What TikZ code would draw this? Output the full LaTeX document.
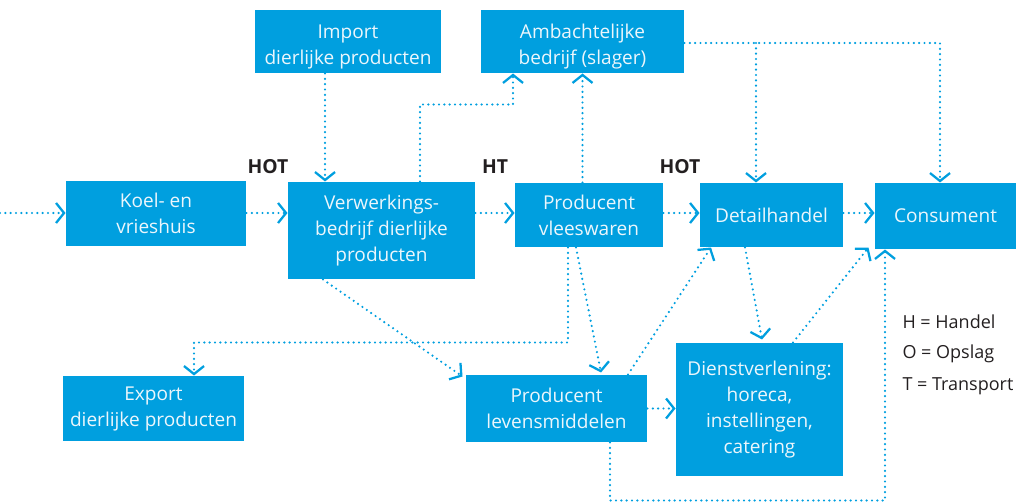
\documentclass[tikz,border=0pt]{standalone}
\usepackage{fontspec}
\setmainfont{Open Sans}
\usetikzlibrary{arrows.meta,calc}

\definecolor{ketenblauw}{RGB}{0,159,223}
\definecolor{ketentekst}{RGB}{236,246,252}
\definecolor{labelgrijs}{RGB}{35,31,32}

\tikzset{every picture/.style={line width=0.75pt}}
\tikzset{
  schakel/.style={fill=ketenblauw, draw=none, text=ketentekst, align=center, inner sep=2pt,
    font=\fontsize{14.3}{19.5}\selectfont},
  stroom/.style={draw=ketenblauw, line width=1.8pt, line cap=round, dash pattern=on 0pt off 4pt,
    -{Straight Barb[length=6pt,width=15pt,line width=1.7pt]}},
  codetekst/.style={text=labelgrijs, font=\fontsize{14.5}{16}\selectfont\bfseries, inner sep=0pt},
  legendatekst/.style={text=labelgrijs, font=\fontsize{13.5}{16}\selectfont, inner sep=0pt, anchor=west}
}
\newcommand{\hoogregel}{\rule{0pt}{19pt}}

\begin{document}
\begin{tikzpicture}[x=0.75pt,y=0.75pt,yscale=-1,xscale=1]
\useasboundingbox (0,0) rectangle (1019,502); %set diagram size 1019 x 502

%Shape: Rectangle [koel]
\node [schakel, minimum width=135pt, minimum height=48.75pt] (koel) at (156,213.5) {Koel- en\\vrieshuis};
%Shape: Rectangle [verw]
\node [schakel, minimum width=140.25pt, minimum height=72.75pt] (verw) at (381.5,230.5) {Verwerkings-\\bedrijf dierlijke\\producten};
%Shape: Rectangle [import]
\node [schakel, minimum width=139.5pt, minimum height=47.25pt] (import) at (348,41.5) {\hoogregel Import\\dierlijke producten};
%Shape: Rectangle [ambacht]
\node [schakel, minimum width=152.25pt, minimum height=47.25pt] (ambacht) at (582.5,41.5) {\hoogregel Ambachtelijke\\bedrijf (slager)};
%Shape: Rectangle [vlees]
\node [schakel, minimum width=111pt, minimum height=48pt] (vlees) at (589,215) {Producent\\vleeswaren};
%Shape: Rectangle [detail]
\node [schakel, minimum width=107.25pt, minimum height=48pt] (detail) at (771.5,215) {Detailhandel};
%Shape: Rectangle [consument]
\node [schakel, minimum width=105.75pt, minimum height=49.5pt] (consument) at (945.5,216) {Consument};
%Shape: Rectangle [export]
\node [schakel, minimum width=135.75pt, minimum height=48.75pt] (export) at (153.5,408.5) {Export\\dierlijke producten};
%Shape: Rectangle [levens]
\node [schakel, minimum width=135.75pt, minimum height=50.25pt] (levens) at (556.5,408.5) {Producent\\levensmiddelen};
%Shape: Rectangle [dienst]
\node [schakel, minimum width=125.25pt, minimum height=99.75pt] (dienst) at (759.5,409.5) {Dienstverlening:\\horeca,\\instellingen,\\catering};

%Text Nodes
\node [codetekst] (hotA) at (268,167) {HOT};
\node [codetekst] (ht) at (495,167) {HT};
\node [codetekst] (hotB) at (680,167) {HOT};
\node [legendatekst] (legH) at (902,322) {H = Handel};
\node [legendatekst] (legO) at (902,354) {O = Opslag};
\node [legendatekst] (legT) at (902,386) {T = Transport};

\coordinate (rij) at (0,213);
\coordinate (begin) at (0,213);

%Straight Lines: main chain
\draw [stroom] (begin) -- (koel.west |- rij);
\draw [stroom] (koel.east |- rij) -- (verw.west |- rij);
\draw [stroom] (verw.east |- rij) -- (vlees.west |- rij);
\draw [stroom] (vlees.east |- rij) -- (detail.west |- rij);
\draw [stroom] (detail.east |- rij) -- (consument.west |- rij);

%Straight Lines: upper part
\draw [stroom] ($(import.south)+(-23,0)$) -- ($(verw.north)+(-56.5,0)$);
\draw [stroom] ($(verw.north)+(38.5,0)$) |- ($(ambacht.south)+(-69.5,31)$) -- ($(ambacht.south)+(-69.5,0)$);
\draw [stroom] (vlees.north -| ambacht.south) -- (ambacht.south);
\coordinate (splits) at ($(ambacht.east -| detail.north)+(-15.5,1.5)$);
\draw [stroom] ($(ambacht.east)+(0,1.5)$) -| ($(consument.north)+(-5.5,0)$);
\draw [stroom] (splits) -- (splits |- detail.north);

%Straight Lines: lower part
\draw [stroom] ($(verw.south)+(-58.5,0)$) -- ($(levens.north west)+(-3,2)$);
\draw [stroom] ($(vlees.south)+(-21,0)$) |- ($(export.north)+(40.5,-33)$) -- ($(export.north)+(40.5,0)$);
\draw [stroom] ($(vlees.south)+(-13,0)$) -- ($(levens.north)+(44.5,-2)$);
\draw [stroom] ($(levens.north)+(71.5,0)$) -- ($(detail.south)+(-60.5,0)$);
\draw [stroom] ($(detail.south)+(-26.5,0)$) -- ($(dienst.north)+(2.5,-3)$);
\draw [stroom] ($(dienst.north)+(33.5,0)$) -- ($(consument.south west)+(-6,-2)$);
\draw [stroom] (levens.east) -- (dienst.west |- levens.east);
\draw [stroom] ($(levens.south)+(53.5,0)$) |- ($(consument.south)+(-60.5,251)$) -- ($(consument.south)+(-60.5,0)$);

\end{tikzpicture}
\end{document}
